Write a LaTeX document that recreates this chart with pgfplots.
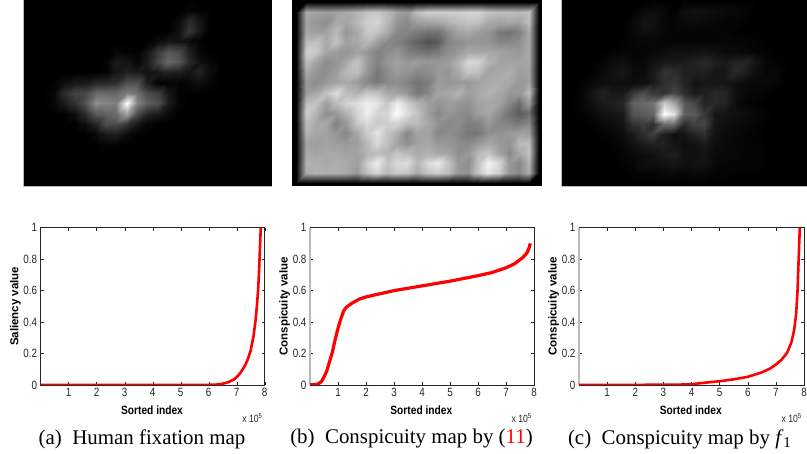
\documentclass[border=0pt]{standalone}
\usepackage{fontspec}
\usepackage{pgfplots}
\pgfplotsset{compat=1.18}
\setmainfont{Liberation Serif}
\newfontfamily\lab[FakeStretch=0.82]{Liberation Sans}
\newfontfamily\labx[FakeStretch=0.85]{Liberation Sans}
\newfontfamily\laby{Liberation Sans}
\definecolor{axc}{gray}{0.15}
\pgfplotsset{
 img/.style={scale only axis,hide axis,view={0}{90},y dir=reverse,enlargelimits=false,
   colormap/blackwhite,point meta min=0,point meta max=100},
 heat/.style={surf,shader=interp,mesh/cols=25,point meta=z},
 cur/.style={scale only axis,width=224pt,height=157.3pt,anchor=south west,clip mode=individual,
   xmin=0,xmax=8,ymin=0,ymax=1,xtick={1,2,3,4,5,6,7,8},ytick={0,0.2,0.4,0.6,0.8,1},
   tick align=inside,major tick length=3pt,axis line style={axc,line width=0.5pt},
   tick style={axc,line width=0.4pt},
   /pgf/number format/assume math mode=true,
   tick label style={font=\lab\fontsize{12}{12}\selectfont,text=axc},
   xlabel style={at={(axis description cs:0.497,-0.158)},anchor=center,font=\labx\bfseries\fontsize{12}{12}\selectfont},
   ylabel style={at={(axis description cs:-0.113,0.5)},anchor=center,font=\laby\bfseries\fontsize{11.5}{12}\selectfont},
   xlabel={Sorted index}},
 red line/.style={red,line width=2.6pt,line join=round}
}
\begin{document}
\begin{tikzpicture}[x=1pt,y=1pt]
\useasboundingbox (0,0) rectangle (807,454);
% --- image (a)
\begin{axis}[img,at={(23pt,268pt)},anchor=south west,width=249pt,height=186pt,xmin=0,xmax=24,ymin=0,ymax=18]
\addplot3[heat] table[row sep=\\,header=false,x expr={\coordindex-25*floor((\coordindex+0.5)/25)},y expr={floor((\coordindex+0.5)/25)},z index=0]{
0\\0\\0\\0\\0\\0\\0\\0\\0\\0\\0\\0\\0\\0\\0\\0\\0\\0\\0\\0\\0\\0\\0\\0\\0\\
0\\0\\0\\0\\0\\0\\0\\0\\0\\0\\0\\0\\0\\0\\0\\0\\2\\0\\0\\0\\0\\0\\0\\0\\0\\
0\\0\\0\\0\\0\\0\\0\\0\\0\\0\\0\\0\\0\\0\\0\\5\\17\\8\\0\\0\\0\\0\\0\\0\\0\\
0\\0\\0\\0\\0\\0\\0\\0\\0\\0\\0\\0\\0\\0\\0\\6\\22\\10\\0\\0\\0\\0\\0\\0\\0\\
0\\0\\0\\0\\0\\0\\0\\0\\0\\0\\0\\0\\0\\5\\8\\7\\4\\1\\0\\0\\0\\0\\0\\0\\0\\
0\\0\\0\\0\\0\\0\\0\\0\\0\\2\\1\\0\\8\\23\\35\\29\\13\\3\\0\\0\\0\\0\\0\\0\\0\\
0\\0\\0\\0\\0\\0\\0\\0\\1\\11\\8\\2\\10\\27\\41\\34\\16\\7\\2\\0\\0\\0\\0\\0\\0\\
0\\0\\0\\0\\0\\0\\0\\0\\1\\8\\13\\10\\7\\10\\14\\12\\8\\14\\5\\0\\0\\0\\0\\0\\0\\
0\\0\\0\\1\\6\\10\\10\\16\\16\\18\\32\\32\\11\\1\\1\\1\\2\\6\\2\\0\\0\\0\\0\\0\\0\\
0\\0\\0\\3\\17\\27\\28\\42\\42\\40\\50\\44\\30\\24\\9\\1\\0\\0\\0\\0\\0\\0\\0\\0\\0\\
0\\0\\0\\2\\10\\20\\32\\55\\52\\50\\100\\52\\38\\32\\11\\2\\0\\0\\0\\0\\0\\0\\0\\0\\0\\
0\\0\\0\\0\\0\\5\\17\\34\\38\\42\\62\\30\\14\\10\\4\\0\\0\\0\\0\\0\\0\\0\\0\\0\\0\\
0\\0\\0\\0\\0\\0\\5\\14\\30\\30\\20\\9\\2\\0\\0\\0\\0\\0\\0\\0\\0\\0\\0\\0\\0\\
0\\0\\0\\0\\0\\0\\0\\3\\10\\12\\5\\1\\0\\0\\0\\0\\0\\0\\0\\0\\0\\0\\0\\0\\0\\
0\\0\\0\\0\\0\\0\\0\\0\\1\\1\\0\\0\\0\\0\\0\\0\\0\\0\\0\\0\\0\\0\\0\\0\\0\\
0\\0\\0\\0\\0\\0\\0\\0\\0\\0\\0\\0\\0\\0\\0\\0\\0\\0\\0\\0\\0\\0\\0\\0\\0\\
0\\0\\0\\0\\0\\0\\0\\0\\0\\0\\0\\0\\0\\0\\0\\0\\0\\0\\0\\0\\0\\0\\0\\0\\0\\
0\\0\\0\\0\\0\\0\\0\\0\\0\\0\\0\\0\\0\\0\\0\\0\\0\\0\\0\\0\\0\\0\\0\\0\\0\\
0\\0\\0\\0\\0\\0\\0\\0\\0\\0\\0\\0\\0\\0\\0\\0\\0\\0\\0\\0\\0\\0\\0\\0\\0\\
};
\end{axis}
% --- image (b)
\fill[black] (291.7,268) rectangle (541.7,454);
\begin{axis}[img,at={(291.7pt,268pt)},anchor=south west,width=250pt,height=186pt,xmin=-0.39,xmax=24.26,ymin=-0.165,ymax=18.26,point meta max=94]
\addplot3[heat] table[row sep=\\,header=false,x expr={\coordindex-25*floor((\coordindex+0.5)/25)},y expr={floor((\coordindex+0.5)/25)},z index=0]{
0\\0\\0\\0\\0\\0\\0\\0\\0\\0\\0\\0\\0\\0\\0\\0\\0\\0\\0\\0\\0\\0\\0\\0\\0\\
0\\62\\60\\58\\60\\62\\66\\72\\74\\68\\60\\56\\70\\76\\76\\76\\76\\78\\78\\72\\70\\70\\68\\72\\0\\
0\\60\\55\\52\\62\\60\\68\\76\\78\\68\\55\\50\\58\\60\\62\\66\\70\\72\\70\\62\\60\\62\\60\\70\\0\\
0\\62\\58\\60\\68\\55\\62\\74\\72\\62\\50\\48\\45\\42\\42\\52\\60\\62\\58\\55\\45\\42\\48\\62\\0\\
0\\70\\72\\62\\72\\60\\62\\68\\58\\50\\48\\42\\36\\30\\34\\48\\52\\55\\55\\55\\50\\50\\52\\62\\0\\
0\\76\\74\\60\\58\\55\\60\\55\\48\\52\\55\\48\\45\\42\\46\\52\\56\\62\\62\\62\\60\\58\\56\\62\\0\\
0\\70\\60\\52\\55\\62\\72\\58\\48\\55\\60\\56\\58\\56\\55\\58\\66\\80\\78\\66\\60\\60\\60\\62\\0\\
0\\62\\55\\52\\58\\68\\70\\55\\44\\52\\58\\54\\50\\52\\56\\55\\62\\72\\70\\60\\62\\64\\58\\60\\0\\
0\\56\\52\\56\\60\\62\\58\\50\\44\\50\\52\\48\\42\\46\\58\\55\\56\\56\\60\\62\\64\\62\\56\\60\\0\\
0\\58\\62\\72\\82\\70\\66\\74\\72\\62\\60\\55\\44\\50\\60\\62\\66\\58\\62\\66\\62\\56\\56\\70\\0\\
0\\70\\72\\58\\70\\78\\82\\88\\84\\74\\88\\76\\66\\58\\54\\58\\56\\54\\60\\62\\60\\50\\40\\58\\0\\
0\\76\\66\\52\\56\\66\\78\\88\\78\\78\\95\\82\\72\\58\\50\\56\\52\\50\\58\\62\\52\\42\\34\\40\\0\\
0\\70\\62\\62\\48\\56\\74\\80\\74\\76\\78\\70\\70\\62\\54\\50\\52\\46\\48\\56\\50\\48\\44\\50\\0\\
0\\66\\62\\60\\55\\50\\62\\76\\84\\72\\64\\50\\60\\60\\50\\52\\50\\44\\44\\52\\54\\56\\60\\58\\0\\
0\\60\\58\\60\\58\\56\\58\\68\\80\\70\\60\\52\\60\\62\\56\\56\\52\\50\\56\\62\\56\\54\\68\\70\\0\\
0\\62\\60\\62\\62\\60\\60\\66\\70\\66\\72\\68\\62\\66\\62\\60\\52\\56\\68\\72\\60\\50\\62\\72\\0\\
0\\66\\64\\62\\64\\62\\58\\76\\88\\72\\80\\82\\68\\80\\86\\72\\56\\52\\72\\90\\80\\56\\50\\66\\0\\
0\\64\\66\\64\\64\\62\\56\\70\\78\\68\\74\\72\\62\\72\\76\\70\\56\\54\\72\\84\\76\\56\\50\\62\\0\\
0\\0\\0\\0\\0\\0\\0\\0\\0\\0\\0\\0\\0\\0\\0\\0\\0\\0\\0\\0\\0\\0\\0\\0\\0\\
};
\end{axis}
% --- image (c)
\begin{axis}[img,at={(561pt,268pt)},anchor=south west,width=246pt,height=186pt,xmin=0,xmax=24,ymin=0,ymax=18]
\addplot3[heat] table[row sep=\\,header=false,x expr={\coordindex-25*floor((\coordindex+0.5)/25)},y expr={floor((\coordindex+0.5)/25)},z index=0]{
0\\0\\0\\0\\0\\0\\0\\0\\0\\0\\0\\0\\0\\0\\0\\0\\0\\0\\0\\0\\0\\0\\0\\0\\0\\
0\\0\\0\\0\\0\\0\\0\\0\\3\\5\\3\\0\\5\\6\\6\\5\\4\\3\\2\\0\\0\\0\\0\\0\\0\\
0\\0\\0\\0\\0\\0\\0\\3\\7\\7\\3\\2\\4\\5\\4\\3\\2\\2\\1\\0\\0\\0\\0\\0\\0\\
0\\0\\0\\0\\0\\0\\0\\3\\6\\5\\3\\2\\2\\2\\2\\2\\2\\1\\0\\0\\0\\0\\0\\0\\0\\
0\\0\\0\\0\\0\\0\\1\\2\\3\\3\\2\\2\\2\\2\\2\\2\\3\\2\\2\\1\\0\\0\\0\\0\\0\\
0\\0\\0\\0\\0\\1\\2\\2\\2\\3\\5\\6\\6\\7\\8\\6\\4\\4\\3\\2\\1\\0\\0\\0\\0\\
0\\0\\0\\0\\2\\5\\6\\3\\3\\7\\10\\10\\11\\13\\16\\12\\10\\14\\15\\7\\2\\1\\0\\0\\0\\
0\\0\\0\\1\\3\\7\\9\\4\\4\\10\\20\\18\\12\\12\\13\\8\\9\\16\\12\\6\\3\\3\\0\\0\\0\\
0\\0\\1\\4\\6\\6\\6\\5\\6\\10\\18\\22\\14\\8\\9\\9\\8\\6\\4\\3\\3\\2\\0\\0\\0\\
0\\0\\2\\8\\13\\10\\10\\22\\30\\22\\20\\28\\18\\10\\12\\16\\14\\6\\3\\2\\1\\0\\0\\0\\0\\
0\\0\\2\\6\\11\\12\\16\\38\\42\\45\\80\\65\\35\\28\\14\\16\\14\\5\\2\\1\\0\\0\\0\\0\\0\\
0\\0\\1\\3\\6\\8\\10\\32\\35\\40\\100\\88\\38\\36\\22\\8\\8\\7\\5\\3\\1\\0\\0\\0\\0\\
0\\0\\0\\1\\3\\5\\8\\20\\24\\18\\42\\42\\18\\26\\28\\8\\5\\4\\3\\2\\0\\0\\0\\0\\0\\
0\\0\\0\\0\\1\\2\\5\\10\\18\\24\\12\\6\\8\\14\\18\\7\\4\\3\\2\\1\\0\\0\\0\\0\\0\\
0\\0\\0\\0\\0\\1\\3\\7\\10\\12\\12\\8\\5\\6\\10\\5\\4\\3\\2\\1\\0\\0\\0\\0\\0\\
0\\0\\0\\0\\0\\0\\2\\3\\5\\6\\10\\12\\7\\6\\8\\4\\3\\3\\2\\2\\0\\0\\0\\0\\0\\
0\\0\\0\\0\\0\\0\\1\\2\\5\\5\\6\\8\\6\\7\\7\\3\\2\\2\\2\\2\\0\\0\\0\\0\\0\\
0\\0\\0\\0\\0\\0\\0\\1\\1\\1\\2\\2\\1\\2\\2\\1\\1\\0\\0\\0\\0\\0\\0\\0\\0\\
0\\0\\0\\0\\0\\0\\0\\0\\0\\0\\0\\0\\0\\0\\0\\0\\0\\0\\0\\0\\0\\0\\0\\0\\0\\
};
\end{axis}
\draw[gray!55,line width=0.7pt] (23,454)--(23,268)--(272,268);
\draw[gray!55,line width=0.7pt] (561,454)--(561,268)--(807,268);
% --- curve (a)
\begin{axis}[cur,at={(40.7pt,69pt)},ylabel={Saliency value}]
\addplot[red line] coordinates {(0,0)(3,0.0005)(6,0.001)(6.3,0.003)(6.5,0.008)(6.7,0.018)(6.9,0.035)(7.0,0.05)(7.1,0.07)(7.2,0.095)(7.3,0.125)(7.4,0.165)(7.5,0.22)(7.6,0.31)(7.68,0.42)(7.73,0.52)(7.77,0.62)(7.8,0.73)(7.83,0.87)(7.86,1)};
\node[font=\lab\fontsize{10.5}{11}\selectfont,text=axc] at (axis description cs:0.945,-0.21) {x 10\textsuperscript{5}};
\end{axis}
% --- curve (b)
\begin{axis}[cur,at={(310pt,69pt)},ylabel={Conspicuity value}]
\draw[gray!55,line width=1.2pt] (rel axis cs:0,0)--(rel axis cs:0,1);
\addplot[red line,line width=3.2pt] coordinates {(0,0.002)(0.2,0.002)(0.3,0.008)(0.4,0.02)(0.5,0.05)(0.6,0.09)(0.7,0.15)(0.8,0.21)(0.9,0.29)(1.0,0.36)(1.1,0.42)(1.2,0.47)(1.3,0.495)(1.5,0.52)(1.75,0.545)(2,0.56)(2.5,0.58)(3,0.6)(3.5,0.615)(4,0.63)(5,0.66)(6,0.695)(6.5,0.715)(7,0.745)(7.3,0.77)(7.6,0.81)(7.75,0.84)(7.82,0.87)(7.87,0.9)};
\node[font=\lab\fontsize{10.5}{11}\selectfont,text=axc] at (axis description cs:0.945,-0.21) {x 10\textsuperscript{5}};
\end{axis}
% --- curve (c)
\begin{axis}[cur,at={(579pt,69pt)},width=225pt,ylabel={Conspicuity value}]
\draw[gray!55,line width=1.2pt] (rel axis cs:0,0)--(rel axis cs:0,1);
\addplot[red line] coordinates {(0,0)(2,0.001)(3.5,0.002)(4,0.005)(4.5,0.015)(5,0.024)(5.5,0.036)(6,0.052)(6.5,0.08)(6.8,0.105)(7,0.13)(7.2,0.16)(7.4,0.205)(7.55,0.27)(7.65,0.35)(7.72,0.45)(7.77,0.6)(7.8,0.75)(7.83,0.9)(7.85,1)};
\node[font=\lab\fontsize{10.5}{11}\selectfont,text=axc] at (axis description cs:0.945,-0.21) {x 10\textsuperscript{5}};
\end{axis}
% --- captions
\node[font=\fontsize{20.9}{22}\selectfont] at (142,15) {(a)\ \ Human fixation map};
\node[font=\fontsize{20.9}{22}\selectfont] at (411.5,15) {(b)\ \ Conspicuity map by (\textcolor{red}{11})};
\node[font=\fontsize{20.9}{22}\selectfont] at (679.5,15) {(c)\ \ Conspicuity map by \textit{f}\raisebox{-3pt}{\fontsize{15}{16}\selectfont 1}};
\end{tikzpicture}
\end{document}
